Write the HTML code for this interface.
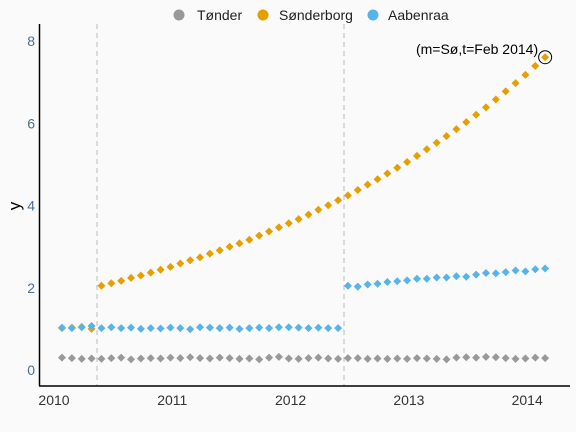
<!DOCTYPE html>
<html><head><meta charset="utf-8"><style>
body{margin:0;background:#fafafa;}
svg{display:block;font-family:"Liberation Sans",sans-serif;}
</style></head><body>
<svg id="chart" width="576" height="432">
<rect width="576" height="432" fill="#fafafa"/>
<g id="legend">
<g><circle cx="179" cy="15" r="5.5" fill="#999999"/><text x="197" y="20" font-size="14" fill="#222">Tønder</text></g>
<g><circle cx="263" cy="15" r="5.5" fill="#E69F00"/><text x="279" y="20" font-size="14" fill="#222">Sønderborg</text></g>
<g><circle cx="373" cy="15" r="5.5" fill="#56B4E9"/><text x="388" y="20" font-size="14" fill="#222">Aabenraa</text></g>
</g>
<g id="grid"></g><g id="axes"></g><g id="marks"></g><g id="annot"></g>
</svg>
<script>
const yTicks=[0,2,4,6,8];
const xTickLabels=["2010","2011","2012","2013","2014"];
const xTickYears=[2010,2011,2012,2013,2014];
const eventMonths=[3.55,28.6];
const tonder=[0.30,0.29,0.27,0.28,0.27,0.29,0.30,0.26,0.28,0.29,0.28,0.30,0.29,0.31,0.29,0.28,0.30,0.29,0.27,0.28,0.26,0.30,0.32,0.28,0.27,0.29,0.30,0.28,0.27,0.29,0.29,0.27,0.28,0.27,0.28,0.27,0.29,0.28,0.27,0.26,0.30,0.31,0.30,0.32,0.31,0.29,0.27,0.28,0.30,0.29];
const sonderborg=[1.02,1.03,1.05,1.00,2.05,2.11,2.17,2.24,2.30,2.37,2.44,2.51,2.59,2.67,2.74,2.83,2.91,3.00,3.08,3.17,3.27,3.37,3.47,3.57,3.67,3.78,3.90,4.01,4.13,4.25,4.38,4.51,4.64,4.78,4.92,5.06,5.21,5.37,5.53,5.69,5.86,6.03,6.21,6.39,6.58,6.78,6.98,7.18,7.40,7.61];
const aabenraa=[1.03,1.02,1.04,1.07,1.02,1.04,1.02,1.03,1.00,1.02,1.01,1.03,1.02,0.99,1.04,1.03,1.02,1.03,1.00,1.02,1.03,1.02,1.04,1.04,1.03,1.02,1.03,1.02,1.02,2.05,2.03,2.08,2.10,2.14,2.16,2.18,2.22,2.22,2.25,2.25,2.28,2.27,2.32,2.36,2.35,2.38,2.42,2.40,2.45,2.47];
const NS="http://www.w3.org/2000/svg";
function xm(i){return 62+i*9.86;}
function xy(yr){return 56+(yr-2010)*118.3;}
function ys(v){return 370-v*41.1;}
function mk(tag,attrs,parent){const e=document.createElementNS(NS,tag);for(const k in attrs)e.setAttribute(k,attrs[k]);parent.appendChild(e);return e;}
const grid=document.getElementById('grid'),axes=document.getElementById('axes'),marks=document.getElementById('marks'),annot=document.getElementById('annot');
eventMonths.forEach(m=>{const l=mk('line',{x1:xm(m),x2:xm(m),y1:24,y2:386,stroke:'#bbb','stroke-dasharray':'5,4','stroke-width':1},grid);

});
const ya=mk('line',{x1:39.5,x2:39.5,y1:24,y2:386,stroke:'#000','stroke-width':1.5},axes);


const xa=mk('line',{x1:39,x2:570,y1:386,y2:386,stroke:'#000','stroke-width':1.5},axes);


yTicks.forEach(v=>{const t=mk('text',{x:35,y:ys(v)+5,'text-anchor':'end','font-size':14,fill:'#4a6f8f'},axes);t.textContent=v;

});
xTickYears.forEach((yr,k)=>{const t=mk('text',{x:xy(yr)-2,y:405,'text-anchor':'middle','font-size':14,fill:'#333'},axes);t.textContent=xTickLabels[k];

});
const yt=mk('text',{x:0,y:0,'font-size':17,fill:'#000',transform:'translate(20,206) rotate(-90)','text-anchor':'middle'},axes);yt.textContent='y';


function series(arr,color,name){arr.forEach((v,i)=>{const cx=xm(i),cy=ys(v);
const p=mk('path',{d:`M${cx} ${cy-4}L${cx+4} ${cy}L${cx} ${cy+4}L${cx-4} ${cy}Z`,fill:color},marks);

});}
series(tonder,'#999999','tonder');
series(sonderborg,'#E69F00','sonderborg');
series(aabenraa,'#56B4E9','aabenraa');
const li=sonderborg.length-1;
const c=mk('circle',{cx:xm(li),cy:ys(sonderborg[li]),r:6.5,fill:'none',stroke:'#000','stroke-width':1},annot);


const at=mk('text',{x:xm(li)-7,y:ys(sonderborg[li])-3,'text-anchor':'end','font-size':14,fill:'#000'},annot);at.textContent='(m=Sø,t=Feb 2014)';


</script>
</body></html>
